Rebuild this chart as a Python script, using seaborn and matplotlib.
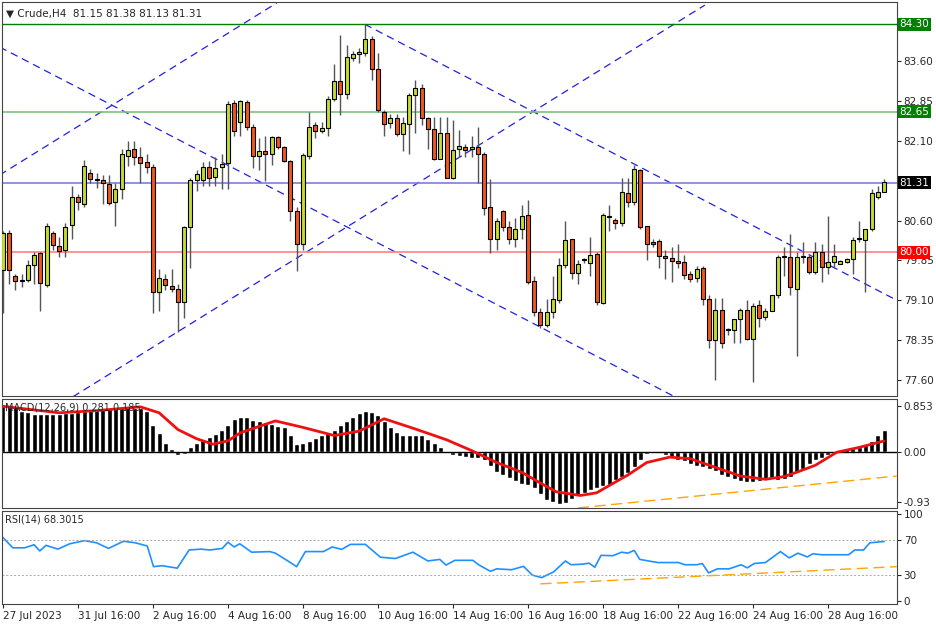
import matplotlib
matplotlib.use("Agg")
import matplotlib.pyplot as plt
import matplotlib.transforms as mtransforms
import numpy as np
import pandas as pd
import seaborn as sns

sns.set_style("white")
plt.rcParams["font.family"] = ["DejaVu Sans"]
plt.rcParams["font.size"] = 7

# H4 candles
opens = [79.67, 80.36, 79.56, 79.48, 79.48, 79.77, 79.98, 79.39, 80.36, 80.12,
         80.04, 80.52, 81.05, 80.92, 81.49, 81.39, 81.36, 81.29, 80.95, 81.19,
         81.81, 81.95, 81.79, 81.71, 81.61, 79.25, 79.49, 79.37, 79.31, 79.07,
         80.48, 81.37, 81.36, 81.61, 81.42, 81.61, 81.68, 82.81, 82.46, 82.84,
         82.37, 81.81, 81.91, 81.85, 82.17, 81.99, 81.72, 80.78, 80.16, 81.81,
         82.40, 82.29, 82.35, 82.90, 83.24, 82.99, 83.67, 83.73, 83.75, 84.02,
         83.45, 82.65, 82.44, 82.53, 82.23, 82.42, 82.97, 83.09, 82.53, 82.32,
         81.76, 82.25, 81.41, 81.95, 81.99,
         81.95, 81.99, 81.86, 80.85, 80.25, 80.78, 80.48, 80.26, 80.45, 80.70,
         79.46, 78.87, 78.63, 78.88, 79.10, 79.77, 80.25, 79.62, 79.85, 79.81,
         79.97, 79.05, 80.67, 80.61, 80.56, 81.12, 80.95, 81.56, 80.50, 80.20,
         80.21, 79.93, 79.89, 79.84, 79.82, 79.59, 79.51, 79.70, 79.13, 78.35,
         78.92, 78.53, 78.54, 78.74, 78.92, 78.37, 79.01, 78.78, 78.90, 79.20,
         79.92, 79.92, 79.32, 79.92, 79.92, 79.64, 80.01, 79.73, 79.82, 79.78,
         79.82, 79.87, 80.25, 80.24, 80.45, 81.04, 81.14]
closes = [80.36, 79.67, 79.46, 79.46, 79.76, 79.96, 79.42, 80.50, 80.14, 80.03,
          80.48, 81.05, 80.95, 81.63, 81.39, 81.36, 81.30, 80.94, 81.19, 81.86,
          81.93, 81.79, 81.68, 81.61, 79.25, 79.51, 79.39, 79.31, 79.07, 80.48,
          81.36, 81.47, 81.61, 81.41, 81.59, 81.66, 82.79, 82.29, 82.85, 82.37,
          81.81, 81.91, 81.86, 82.17, 81.99, 81.72, 80.78, 80.16, 81.83, 82.37,
          82.29, 82.34, 82.90, 83.24, 82.99, 83.69, 83.73, 83.77, 84.02, 83.46,
          82.68, 82.42, 82.53, 82.23, 82.43, 82.97, 83.09, 82.53, 82.32, 81.76,
          82.25, 81.41, 81.93, 82.00, 81.93,
          81.99, 81.86, 80.83, 80.25, 80.59, 80.48, 80.26, 80.45, 80.68, 79.45,
          78.88, 78.63, 78.88, 79.12, 79.77, 80.23, 79.62, 79.79, 79.85, 79.95,
          79.07, 80.70, 80.67, 80.56, 81.13, 80.95, 81.58, 80.48, 80.15, 80.15,
          79.93, 79.89, 79.84, 79.81, 79.57, 79.49, 79.68, 79.13, 78.35, 78.92,
          78.29, 78.53, 78.74, 78.92, 78.37, 78.99, 78.76, 78.90, 79.20, 79.92,
          79.92, 79.34, 79.92, 79.92, 79.64, 80.01, 79.73, 79.82, 79.93, 79.84,
          79.88, 80.24, 80.25, 80.45, 81.12, 81.14, 81.32]
highs = [80.40, 80.42, 79.60, 79.60, 79.85, 80.00, 80.00, 80.55, 80.40, 80.30,
         80.55, 81.25, 81.10, 81.75, 81.58, 81.50, 81.45, 81.45, 81.30, 81.95,
         82.10, 82.10, 81.98, 81.86, 81.66, 79.68, 79.60, 79.68, 79.40, 80.50,
         81.40, 81.55, 81.70, 81.72, 81.80, 81.86, 82.85, 82.87, 82.88, 82.88,
         82.42, 82.15, 82.20, 82.20, 82.20, 82.01, 81.74, 80.85, 81.88, 82.65,
         82.45, 82.45, 82.95, 83.55, 84.09, 83.90, 83.80, 83.85, 84.30, 84.07,
         83.75, 82.68, 82.60, 82.60, 82.55, 83.00, 83.25, 83.18, 82.55, 82.55,
         82.55, 82.55, 82.50, 82.30, 82.05,
         82.20, 82.37, 81.90, 81.39, 80.65, 80.80, 80.60, 80.65, 80.90, 80.98,
         79.55, 78.95, 79.12, 79.55, 79.90, 80.60, 80.25, 79.85, 79.90, 80.30,
         80.00, 80.75, 80.90, 80.65, 81.40, 81.40, 81.65, 81.58, 80.50, 80.25,
         80.25, 80.05, 80.10, 80.15, 79.95, 79.65, 79.75, 79.75, 79.20, 79.15,
         79.15, 78.58, 78.75, 78.95, 79.10, 79.05, 79.10, 78.95, 79.20, 79.95,
         80.10, 80.35, 80.00, 80.20, 79.95, 80.20, 80.15, 80.68, 80.15, 79.85,
         79.90, 80.30, 80.60, 80.45, 81.20, 81.25, 81.38]
lows = [78.85, 79.40, 79.30, 79.35, 79.45, 79.40, 78.90, 79.35, 80.05, 79.92,
        79.92, 80.26, 80.80, 80.85, 81.30, 81.22, 80.92, 80.90, 80.50, 81.00,
        81.62, 81.65, 81.30, 81.50, 78.85, 78.90, 79.30, 79.25, 78.51, 78.77,
        79.70, 81.15, 81.25, 81.25, 81.25, 81.20, 81.20, 82.20, 82.20, 82.30,
        81.60, 81.55, 81.35, 81.65, 81.95, 81.70, 80.60, 79.65, 80.05, 81.76,
        82.15, 82.25, 82.20, 82.85, 82.59, 82.90, 83.60, 83.57, 83.70, 83.25,
        82.65, 82.20, 82.35, 82.20, 81.92, 81.86, 82.25, 82.40, 81.95, 81.75,
        81.76, 81.40, 81.38, 81.80, 81.80,
        81.80, 81.30, 80.70, 79.98, 80.05, 80.40, 80.15, 80.10, 80.26, 79.40,
        78.80, 78.58, 78.60, 78.76, 79.05, 79.70, 79.50, 79.40, 79.80, 79.55,
        79.00, 79.03, 80.40, 80.45, 80.50, 80.85, 80.90, 80.45, 79.85, 80.10,
        79.70, 79.50, 79.45, 79.70, 79.50, 79.45, 79.45, 79.00, 78.20, 77.60,
        78.20, 78.45, 78.30, 78.30, 78.35, 77.55, 78.60, 78.73, 78.90, 79.15,
        79.55, 79.20, 78.05, 79.80, 79.60, 79.60, 79.45, 79.60, 79.70, 79.78,
        79.80, 79.60, 80.20, 79.25, 80.40, 81.00, 81.13]

macd_hist = [0.85, 0.84, 0.82, 0.75, 0.73, 0.70, 0.70, 0.69, 0.69, 0.70,
             0.72, 0.72, 0.73, 0.75, 0.77, 0.79, 0.80, 0.80, 0.81, 0.82,
             0.82, 0.81, 0.80, 0.75, 0.50, 0.35, 0.17, 0.05, -0.06, -0.04,
             0.08, 0.17, 0.23, 0.28, 0.32, 0.41, 0.50, 0.60, 0.64, 0.65,
             0.59, 0.57, 0.55, 0.52, 0.48, 0.45, 0.30, 0.14, 0.16, 0.20,
             0.26, 0.30, 0.35, 0.41, 0.49, 0.57, 0.65, 0.71, 0.75, 0.73,
             0.67, 0.57, 0.45, 0.37, 0.30, 0.30, 0.30, 0.30, 0.24, 0.17,
             0.08, 0.02, -0.06, -0.08, -0.10, -0.12, -0.12, -0.15, -0.26, -0.37,
             -0.43, -0.49, -0.55, -0.59, -0.62, -0.68, -0.79, -0.90, -0.93, -0.96,
             -0.94, -0.87, -0.81, -0.76, -0.71, -0.68, -0.63, -0.61, -0.53, -0.46,
             -0.39, -0.29, -0.16, -0.04, 0.00, -0.02, -0.06, -0.10, -0.15, -0.18,
             -0.23, -0.26, -0.29, -0.32, -0.35, -0.43, -0.47, -0.50, -0.55, -0.56,
             -0.56, -0.55, -0.53, -0.50, -0.53, -0.51, -0.47, -0.39, -0.32, -0.23,
             -0.16, -0.12, -0.07, -0.02, 0.02, 0.05, 0.07, 0.09, 0.13, 0.20,
             0.30, 0.41]
signal_bars = [0, 9, 15, 22, 25, 28, 31, 33.6, 36, 38, 43.6, 48, 53, 57, 61, 66,
               71, 75, 79, 83, 86, 88.5, 92.4, 95, 97.1, 100, 103, 106.7, 110,
               112.5, 118, 122, 125, 127, 130, 133.4, 137, 141]
signal_vals = [0.84, 0.72, 0.76, 0.83, 0.72, 0.41, 0.24, 0.14, 0.20, 0.35, 0.57,
               0.45, 0.30, 0.38, 0.61, 0.42, 0.22, 0.02, -0.20, -0.38, -0.58,
               -0.74, -0.81, -0.76, -0.62, -0.43, -0.20, -0.10, -0.13, -0.23,
               -0.45, -0.51, -0.46, -0.38, -0.25, -0.01, 0.08, 0.20]

rsi_bars = [0, 1.6, 3.5, 5, 5.9, 6.9, 8.8, 10.7, 13.1, 15, 16.9, 19.3, 21.2, 23.1,
            24.1, 25.5, 27.9, 29.8, 31.7, 33.1, 35.1, 36, 37, 37.9, 39.8, 42.7,
            43.6, 45.6, 47, 48.4, 51.3, 52.7, 54.2, 55.6, 58, 60.4, 62.8, 65.6,
            68, 69.9, 70.9, 72.3, 75.2, 76.1, 78, 79, 81.4, 83.3, 84.7, 86.2,
            88.1, 90, 90.9, 92.8, 93.8, 94.7, 95.7, 97.6, 99, 100, 101, 101.9,
            103.3, 104.8, 108.1, 109.1, 111, 111.9, 112.9, 114.3, 116.2, 118.1,
            119.1, 120.2, 122, 124.4, 125.8, 127.2, 128.7, 129.6, 131, 135.3,
            136.3, 137.7, 138.7, 141]
rsi_vals = [72.9, 61.1, 61.1, 64.6, 57.5, 63.9, 59.6, 65.7, 69.3, 66.8, 60.4, 68.6,
            66.8, 63.2, 39.6, 40.7, 37.9, 58.6, 59.6, 58.6, 60.4, 67.5, 62.1, 65.7,
            56.1, 56.8, 55.0, 46.1, 39.6, 56.8, 56.8, 62.1, 59.3, 65.0, 65.0, 50.4,
            48.9, 56.1, 46.1, 47.9, 41.4, 46.8, 46.8, 41.8, 34.3, 37.1, 36.1, 40.0,
            30.0, 27.1, 33.6, 46.1, 41.8, 42.5, 43.6, 38.9, 52.5, 52.1, 56.1, 55.0,
            58.2, 47.9, 46.1, 44.3, 44.3, 41.8, 41.8, 43.2, 32.5, 37.1, 37.1, 41.8,
            38.2, 43.2, 44.3, 56.8, 49.6, 55.0, 50.7, 54.3, 53.2, 53.2, 58.6, 58.6,
            66.8, 68.3]

# trendlines as (bar, value) end points
price_lines = [([11.2, 112.3], [77.28, 84.66]),
               ([-0.5, 43.8], [81.46, 84.70]),
               ([57.9, 143.0], [84.30, 79.10]),
               ([-0.5, 107.5], [83.87, 77.28])]
macd_trend = ([92, 143], [-1.04, -0.45])
rsi_trend = ([86, 143], [20.0, 39.6])

levels = [84.30, 82.65, 81.31, 80.00]
level_colors = ["#008000", "#7fc07f", "#7f7fd8", "#ff8080"]
level_boxes = ["#008000", "#008000", "#000000", "#ff0000"]
price_ticks = [83.60, 82.85, 82.10, 80.60, 79.85, 79.10, 78.35, 77.60]

date_bars = [0, 12, 24, 36, 48, 60, 72, 84, 96, 108, 120, 132]
date_labels = ["27 Jul 2023", "31 Jul 16:00", "2 Aug 16:00", "4 Aug 16:00",
               "8 Aug 16:00", "10 Aug 16:00", "14 Aug 16:00", "16 Aug 16:00",
               "18 Aug 16:00", "22 Aug 16:00", "24 Aug 16:00", "28 Aug 16:00"]

df = pd.DataFrame({"open": opens, "close": closes, "high": highs, "low": lows})
df["bar"] = np.arange(len(df))
bull = df["close"] >= df["open"]

fig = plt.figure(figsize=(9.36, 6.24), dpi=100)
ax = fig.add_axes([0.002, 0.365, 0.956, 0.631])
axm = fig.add_axes([0.002, 0.186, 0.956, 0.175], sharex=ax)
axr = fig.add_axes([0.002, 0.032, 0.956, 0.149], sharex=ax)

# candles
ax.vlines(df["bar"], df["low"], df["high"], color="#555555", linewidth=1, zorder=2)
body_lo = df[["open", "close"]].min(axis=1)
body_h = (df["close"] - df["open"]).abs().clip(lower=0.02)
ax.bar(df["bar"], body_h, bottom=body_lo, width=0.62,
       color=np.where(bull, "#c6dc2e", "#f2561d"), edgecolor="black",
       linewidth=0.8, zorder=3)

for xs, ys in price_lines:
    ax.plot(xs, ys, color="#2020e0", linestyle=(0, (6, 4)), linewidth=0.9, zorder=1)

blend = mtransforms.blended_transform_factory(ax.transAxes, ax.transData)
for lv, lc, bc in zip(levels, level_colors, level_boxes):
    ax.axhline(lv, color=lc, linewidth=1.2 if lv != 84.30 else 1.0, zorder=1)
    ax.text(1.003, lv, f"{lv:.2f}", transform=blend, va="center", ha="left",
            color="white", fontsize=7.5, clip_on=False,
            bbox=dict(boxstyle="square,pad=0.15", fc=bc, ec="none"), zorder=5)

ax.set_ylim(77.29, 84.71)
ax.set_xlim(-0.16, 143.0)
ax.yaxis.tick_right()
ax.set_yticks(price_ticks)
ax.set_yticklabels([f"{t:.2f}" for t in price_ticks])
ax.text(0.005, 0.985, "\u25bc Crude,H4  81.15 81.38 81.13 81.31",
        transform=ax.transAxes, va="top", ha="left", fontsize=7.5)

# MACD
axm.bar(df["bar"], macd_hist, width=0.8, color="black", zorder=2)
sns.lineplot(x=signal_bars, y=signal_vals, ax=axm, color="#ee1111", linewidth=2, zorder=3)
axm.axhline(0, color="black", linewidth=1)
axm.plot(*macd_trend, color="#ffa500", linestyle=(0, (8, 4)), linewidth=1)
axm.set_ylim(-1.04, 0.98)
axm.yaxis.tick_right()
axm.set_yticks([0.853, 0.0, -0.93])
axm.set_yticklabels(["0.853", "0.00", "-0.93"])
axm.text(0.003, 0.97, "MACD(12,26,9) 0.281 0.185", transform=axm.transAxes,
         va="top", ha="left", fontsize=7)

# RSI
sns.lineplot(x=rsi_bars, y=rsi_vals, ax=axr, color="#1e90ff", linewidth=1.2)
for lv in (70, 30):
    axr.axhline(lv, color="#aaaaaa", linestyle=(0, (2, 2)), linewidth=0.7)
axr.plot(*rsi_trend, color="#ffa500", linestyle=(0, (8, 4)), linewidth=1)
axr.set_ylim(-3, 103)
axr.yaxis.tick_right()
axr.set_yticks([100, 70, 30, 0])
axr.text(0.003, 0.96, "RSI(14) 68.3015", transform=axr.transAxes,
         va="top", ha="left", fontsize=7)

for a in (ax, axm, axr):
    a.tick_params(axis="y", length=3, pad=2, labelsize=7.5, right=True)
    a.tick_params(axis="x", length=0)
    for s in a.spines.values():
        s.set_color("#444444")
        s.set_linewidth(0.8)
    a.set_xlabel("")
    a.set_ylabel("")

plt.setp(ax.get_xticklabels(), visible=False)
plt.setp(axm.get_xticklabels(), visible=False)
axr.set_xticks(date_bars)
axr.set_xticklabels(date_labels, ha="left", fontsize=7.5)
axr.tick_params(axis="x", length=3, pad=2, bottom=True)

fig.savefig("out.png", dpi=100)
